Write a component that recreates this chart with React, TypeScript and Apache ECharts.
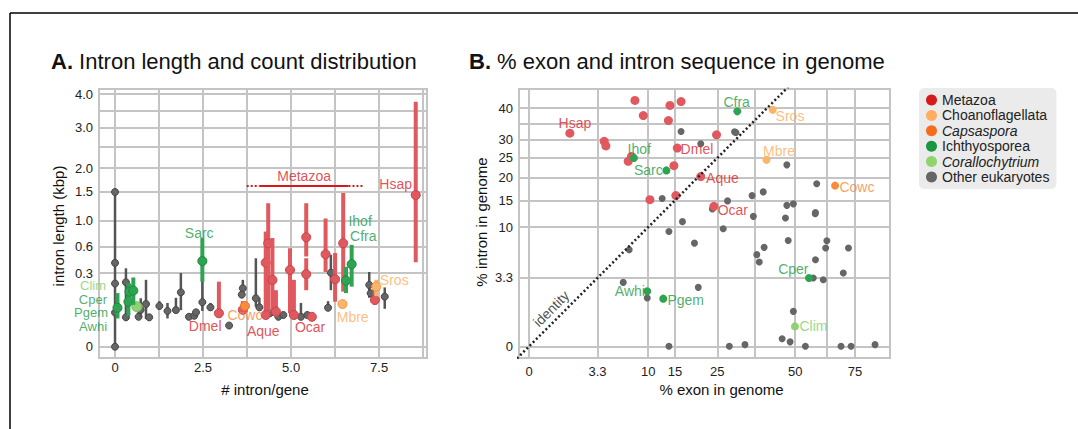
import React, { useEffect, useRef } from 'react';
import * as echarts from 'echarts';

const FONT = '"Liberation Sans", Arial, Helvetica, sans-serif';

// ---------- Panel A: [intron/gene, median kbp, low kbp, high kbp]
const aOther = [
  [0, 0.44, 0, 1.5], [0, 1.5, 1.5, 1.5], [0, 0.25, 0.25, 0.25], [0, 0.073, 0.073, 0.073], [0, 0, 0, 0],
  [0.31, 0.26, 0.054, 0.385], [0.31, 0.054, 0.054, 0.054], [0.67, 0.056, 0.045, 0.08], [0.73, 0.085, 0.056, 0.147],
  [0.88, 0.114, 0.048, 0.28], [0.97, 0.054, 0.054, 0.054], [1.26, 0.104, 0.085, 0.13], [1.49, 0.08, 0.05, 0.12],
  [1.73, 0.084, 0.07, 0.15], [1.87, 0.185, 0.084, 0.34], [2.1, 0.056, 0.056, 0.056], [2.25, 0.06, 0.06, 0.06],
  [2.3, 0.074, 0.074, 0.074], [2.48, 0.124, 0.08, 0.27], [2.71, 0.097, 0.08, 0.12], [3.24, 0.028, 0.028, 0.028],
  [3.63, 0.214, 0.17, 0.28], [3.6, 0.17, 0.17, 0.17], [4.0, 0.147, 0.1, 0.49], [4.1, 0.097, 0.08, 0.15],
  [4.4, 0.07, 0.07, 0.07], [4.64, 0.056, 0.056, 0.056], [4.78, 0.063, 0.063, 0.063], [5.28, 0.056, 0.05, 0.12],
  [5.46, 0.063, 0.063, 0.063], [6.05, 0.095, 0.095, 0.13], [6.13, 0.343, 0.2, 0.53], [7.22, 0.239, 0.15, 0.35],
  [7.26, 0.179, 0.179, 0.179], [7.66, 0.157, 0.09, 0.22],
];
const aMetazoa = [
  [2.95, 0.07, 0.07, 0.265], [3.63, 0.085, 0.075, 0.13], [4.28, 0.442, 0.056, 0.83], [4.35, 0.67, 0.07, 1.29],
  [4.47, 0.279, 0.077, 0.74], [4.57, 0.077, 0.056, 0.2], [4.28, 0.063, 0.063, 0.063], [4.97, 0.369, 0.07, 0.607],
  [5.08, 0.063, 0.063, 0.28], [5.43, 0.75, 0.51, 1.29], [5.43, 0.33, 0.2, 0.49], [5.59, 0.056, 0.056, 0.056],
  [5.98, 0.535, 0.35, 1.03], [6.25, 0.285, 0.127, 0.55], [6.48, 0.67, 0.19, 1.48], [7.38, 0.137, 0.11, 0.2],
  [8.54, 1.44, 0.447, 3.76],
];
const aIchthyo = [
  [0.07, 0.095, 0.05, 0.18], [0.38, 0.127, 0.06, 0.25], [0.41, 0.19, 0.13, 0.25], [0.52, 0.197, 0.11, 0.3],
  [2.48, 0.46, 0.265, 0.74], [6.56, 0.273, 0.18, 0.4], [6.72, 0.426, 0.226, 0.65],
];
const aCorallo = [[0.62, 0.1, 0.1, 0.1]];
const aCapsa = [[3.69, 0.104, 0.09, 0.13]];
const aChoano = [[6.46, 0.114, 0.1, 0.13], [7.42, 0.226, 0.16, 0.28]];

// labels: [text, x, kbp, align, group, fontSize]
const aLabels: [string, number, number, string, string, number][] = [
  ['Clim', -0.256, 0.231, 'right', 'Corallochytrium', 13],
  ['Cper', -0.227, 0.1397, 'right', 'Ichthyosporea', 13],
  ['Pgem', -0.2, 0.0712, 'right', 'Ichthyosporea', 13],
  ['Awhi', -0.227, 0.0256, 'right', 'Ichthyosporea', 13],
  ['Sarc', 2.39, 0.815, 'center', 'Ichthyosporea', 14],
  ['Dmel', 2.56, 0.0276, 'center', 'Metazoa', 14],
  ['Cowc', 3.69, 0.061, 'center', 'Capsaspora', 14],
  ['Aque', 4.21, 0.0155, 'center', 'Metazoa', 14],
  ['Ocar', 5.54, 0.0243, 'center', 'Metazoa', 14],
  ['Mbre', 6.75, 0.0564, 'center', 'Choanoflagellata', 14],
  ['Sros', 7.93, 0.279, 'center', 'Choanoflagellata', 14],
  ['Ihof', 6.96, 0.983, 'center', 'Ichthyosporea', 14],
  ['Cfra', 7.05, 0.761, 'center', 'Ichthyosporea', 14],
  ['Hsap', 7.97, 1.653, 'center', 'Metazoa', 14],
  ['Metazoa', 5.37, 1.833, 'center', 'Metazoa', 14],
];
const metazoaSpanX = [3.74, 4.1, 6.63, 7.04];
const metazoaSpanKbp = 1.62;

const aXTicks = [0, 1.25, 2.5, 3.75, 5, 6.25, 7.5, 8.75];
const aXTickLabels = ['0', '', '2.5', '', '5.0', '', '7.5', ''];
const aYTicks = [0, 0.34, 0.63, 1, 1.5, 2, 2.5, 3, 3.5, 4];
const aYTickLabels = ['0', '0.3', '0.6', '1.0', '1.5', '2.0', '', '3.0', '', '4.0'];

// ---------- Panel B: [% exon, % intron]
const bMetazoa = [
  [1.17, 32.0], [7.9, 42.6], [9.2, 37.5], [3.98, 29.6], [4.16, 28.3], [7.4, 25.4], [6.93, 24.1], [10.3, 15.15],
  [14.0, 40.9], [13.7, 35.9], [16.3, 42.2], [24.8, 31.5], [15.5, 27.7], [14.8, 23.0], [20.8, 20.3], [15.2, 16.0],
  [24.1, 13.8],
];
const bIchthyo = [[7.75, 25], [13.3, 21.8], [9.85, 2.13], [12.7, 1.6], [30.6, 38.9], [55.3, 3.29]];
const bCorallo = [[49.9, 0.28]];
const bCapsa = [[66.1, 18.2]];
const bChoano = [[41.9, 39.4], [39.8, 24.5]];
const bOther = [
  [12.5, 15.4], [7.07, 6.58], [6.25, 2.88], [9.85, 1.65], [13.8, 9.3], [13.8, 0], [16.3, 32.5], [30.2, 32.2],
  [29.8, 32.4], [20.8, 28.9], [46.9, 23.2], [58.4, 18.6], [35.1, 16.0], [38.7, 16.8], [27.8, 14.9], [23.7, 13.3],
  [46.9, 14.0], [49.3, 14.3], [57.8, 12.4], [57.9, 12.6], [35.5, 11.9], [46.4, 11.6], [16.6, 10.95], [26.6, 9.75],
  [19.3, 7.5], [47.4, 7.9], [62.6, 7.85], [62.1, 6.8], [72.0, 6.8], [39.0, 6.9], [36.6, 5.92], [37.4, 5.0],
  [57.9, 5.29], [69.7, 3.79], [57.0, 3.29], [61.1, 3.13], [20.2, 2.45], [49.3, 0.86], [45.2, 0.04], [48.1, 0.014],
  [28.3, 0], [32.9, 0.002], [53.9, 0], [68.7, 0], [73.2, 0], [84.5, 0.002],
];
const bLabels: [string, number, number, string, string][] = [
  ['Hsap', 1.48, 35.1, 'center', 'Metazoa'],
  ['Ihof', 8.56, 27.4, 'center', 'Ichthyosporea'],
  ['Sarc', 12.6, 21.8, 'right', 'Ichthyosporea'],
  ['Awhi', 9.47, 2.13, 'right', 'Ichthyosporea'],
  ['Pgem', 13.5, 1.53, 'left', 'Ichthyosporea'],
  ['Cfra', 30.4, 42.0, 'center', 'Ichthyosporea'],
  ['Sros', 42.9, 37.4, 'left', 'Choanoflagellata'],
  ['Dmel', 16.2, 27.4, 'left', 'Metazoa'],
  ['Mbre', 44.1, 26.95, 'center', 'Choanoflagellata'],
  ['Aque', 22.1, 19.95, 'left', 'Metazoa'],
  ['Cowc', 68.0, 17.9, 'left', 'Capsaspora'],
  ['Ocar', 25.1, 13.15, 'left', 'Metazoa'],
  ['Cper', 49.3, 4.21, 'center', 'Ichthyosporea'],
  ['Clim', 51.6, 0.28, 'left', 'Corallochytrium'],
];
const identityEnds = [-1, 100];
const identityLabelAt = [0.34, 1.0];

const bXTicks = [0, 3.3, 10, 15, 25, 36, 50, 62.5, 75];
const bXTickLabels = ['0', '3.3', '10', '15', '25', '', '50', '', '75'];
const bYTicks = [0, 3.3, 10, 15, 20, 25, 30, 35, 40];
const bYTickLabels = ['0', '3.3', '10', '15', '20', '25', '30', '', '40'];

const groupNames = ['Metazoa', 'Choanoflagellata', 'Capsaspora', 'Ichthyosporea', 'Corallochytrium', 'Other eukaryotes'];
const legendColors = ['#d7191c', '#fdae61', '#f46d1e', '#1a9641', '#8fd46c', '#666666'];
const italicGroups = ['Capsaspora', 'Corallochytrium'];

const labelColor: Record<string, string> = {
  Metazoa: '#d7262b', Choanoflagellata: '#fdae61', Capsaspora: '#f5883a', Ichthyosporea: '#229a46',
  Corallochytrium: '#7fce6a', 'Other eukaryotes': '#555555',
};
const markStyle: Record<string, { fill: string; stroke: string; line: string; lw: number; r: number; b: number }> = {
  Metazoa: { fill: '#e0595e', stroke: '#c9434a', line: '#e0595e', lw: 4, r: 4.5, b: 9 },
  Choanoflagellata: { fill: '#fdb466', stroke: '#f29a45', line: '#fdb466', lw: 4, r: 4.5, b: 8 },
  Capsaspora: { fill: '#f78c40', stroke: '#e8742a', line: '#f78c40', lw: 4, r: 4.5, b: 8 },
  Ichthyosporea: { fill: '#2ea352', stroke: '#1d8a3d', line: '#2ea352', lw: 4, r: 4.5, b: 8 },
  Corallochytrium: { fill: '#8fd175', stroke: '#76bf5c', line: '#8fd175', lw: 4, r: 5, b: 8 },
  'Other eukaryotes': { fill: '#666666', stroke: '#444444', line: '#555555', lw: 2.5, r: 3.5, b: 7 },
};

const aGroups: [string, number[][]][] = [
  ['Other eukaryotes', aOther], ['Metazoa', aMetazoa], ['Capsaspora', aCapsa], ['Choanoflagellata', aChoano],
  ['Corallochytrium', aCorallo], ['Ichthyosporea', aIchthyo],
];
const bGroups: [string, number[][]][] = [
  ['Other eukaryotes', bOther], ['Metazoa', bMetazoa], ['Capsaspora', bCapsa], ['Choanoflagellata', bChoano],
  ['Corallochytrium', bCorallo], ['Ichthyosporea', bIchthyo],
];

const sq = (v: number) => (v < 0 ? -Math.sqrt(-v) : Math.sqrt(v));

const fmtFrom = (ticks: number[], labels: string[], tf: (v: number) => number) => (v: number) => {
  for (let i = 0; i < ticks.length; i++) if (Math.abs(tf(ticks[i]) - v) < 1e-6) return labels[i];
  return '';
};
const labelled = (ticks: number[], labels: string[], tf: (v: number) => number) =>
  ticks.filter((_, i) => labels[i] !== '').map(tf);

const GRID = '#c4c4c4';
const TICK_FONT = { fontSize: 13, color: '#222', fontFamily: FONT };

function buildOption(): any {
  const ident = (v: number) => v;
  const axisCommon = (ticks: number[], labels: string[], tf: (v: number) => number, margin: number) => ({
    type: 'value',
    axisLine: { show: false },
    axisTick: { show: false, customValues: ticks.map(tf) },
    axisLabel: { ...TICK_FONT, margin, customValues: labelled(ticks, labels, tf), formatter: fmtFrom(ticks, labels, tf) },
    splitLine: { show: true, lineStyle: { color: GRID, width: 2 } },
  });

  const series: any[] = [];
  aGroups.forEach(([name, arr]) => {
    const st = markStyle[name];
    series.push({
      type: 'custom', name, xAxisIndex: 0, yAxisIndex: 0,
      data: arr.map((d) => [d[0], sq(d[1]), sq(d[2]), sq(d[3])]),
      encode: { x: 0, y: [1, 2, 3] },
      renderItem: (params: any, api: any) => {
        const p = api.coord([api.value(0), api.value(1)]);
        const lo = api.coord([api.value(0), api.value(2)]);
        const hi = api.coord([api.value(0), api.value(3)]);
        const children: any[] = [];
        if (Math.abs(lo[1] - hi[1]) > 0.5) {
          children.push({ type: 'line', shape: { x1: p[0], y1: lo[1], x2: p[0], y2: hi[1] }, style: { stroke: st.line, lineWidth: st.lw } });
        }
        children.push({ type: 'circle', shape: { cx: p[0], cy: p[1], r: st.r }, style: { fill: st.fill, stroke: st.stroke, lineWidth: 1 } });
        return { type: 'group', children };
      },
    });
  });
  const msy = sq(metazoaSpanKbp);
  series.push({
    type: 'line', name: 'metazoaSolid', xAxisIndex: 0, yAxisIndex: 0, symbol: 'none', silent: true,
    data: [[metazoaSpanX[1], msy], [metazoaSpanX[2], msy]], lineStyle: { color: '#d7191c', width: 2 },
  });
  series.push({
    type: 'line', name: 'metazoaDot1', xAxisIndex: 0, yAxisIndex: 0, symbol: 'none', silent: true,
    data: [[metazoaSpanX[0], msy], [metazoaSpanX[1], msy]], lineStyle: { color: '#d7191c', width: 2, type: [2, 2] },
  });
  series.push({
    type: 'line', name: 'metazoaDot2', xAxisIndex: 0, yAxisIndex: 0, symbol: 'none', silent: true,
    data: [[metazoaSpanX[2], msy], [metazoaSpanX[3], msy]], lineStyle: { color: '#d7191c', width: 2, type: [2, 2] },
  });
  series.push({
    type: 'scatter', name: 'aLabels', xAxisIndex: 0, yAxisIndex: 0, symbolSize: 0, silent: true,
    data: aLabels.map(([t, x, y, al, g, fs]) => ({
      value: [x, sq(y)],
      label: { show: true, formatter: t, position: [0, 0], align: al, verticalAlign: 'middle', color: labelColor[g], fontSize: fs, fontFamily: FONT },
    })),
  });

  // Panel B
  series.push({
    type: 'line', name: 'identity', xAxisIndex: 1, yAxisIndex: 1, symbol: 'none', silent: true, clip: true,
    data: identityEnds.map((v) => [sq(v), sq(v)]), lineStyle: { color: '#222', width: 2.5, type: [2, 2.5] },
  });
  bGroups.forEach(([name, arr]) => {
    const st = markStyle[name];
    series.push({
      type: 'scatter', name, xAxisIndex: 1, yAxisIndex: 1, symbolSize: st.b,
      data: arr.map((d) => [sq(d[0]), sq(d[1])]),
      itemStyle: { color: st.fill, opacity: 1 },
    });
  });
  series.push({
    type: 'scatter', name: 'bLabels', xAxisIndex: 1, yAxisIndex: 1, symbolSize: 0, silent: true,
    data: [
      ...bLabels.map(([t, x, y, al, g]) => ({
        value: [sq(x), sq(y)],
        label: { show: true, formatter: t, position: [0, 0], align: al, verticalAlign: 'middle', color: labelColor[g], fontSize: 14, fontFamily: FONT },
      })),
      {
        value: identityLabelAt.map(sq),
        label: { show: true, formatter: 'identity', position: [0, 0], align: 'center', verticalAlign: 'middle', rotate: 45, color: '#222', fontSize: 14, fontFamily: FONT },
      },
    ],
  });

  const titleStyle = {
    fontSize: 22, fontWeight: 'normal', color: '#111', fontFamily: FONT,
    rich: { b: { fontSize: 22, fontWeight: 'bold', color: '#111', fontFamily: FONT } },
  };

  return {
    animation: false,
    backgroundColor: '#ffffff',
    textStyle: { fontFamily: FONT },
    title: [
      { text: '{b|A.} Intron length and count distribution', left: 46, top: 45, textStyle: titleStyle },
      { text: '{b|B.} % exon and intron sequence in genome', left: 464, top: 45, textStyle: titleStyle },
    ],
    grid: [
      { left: 99, top: 89, width: 328, height: 269, show: true, borderColor: GRID, borderWidth: 2, backgroundColor: 'transparent' },
      { left: 519, top: 89, width: 371, height: 269, show: true, borderColor: GRID, borderWidth: 2, backgroundColor: 'transparent' },
    ],
    xAxis: [
      { ...axisCommon(aXTicks, aXTickLabels, ident, 3), gridIndex: 0, min: -0.455, max: 8.86 },
      { ...axisCommon(bXTicks, bXTickLabels, sq, 7), gridIndex: 1, min: -0.27, max: 9.59 },
    ],
    yAxis: [
      { ...axisCommon(aYTicks, aYTickLabels, sq, 6), gridIndex: 0, min: -0.0895, max: 2.04 },
      { ...axisCommon(bYTicks, bYTickLabels, sq, 6), gridIndex: 1, min: -0.31, max: 6.83 },
    ],
    legend: {
      orient: 'vertical', left: 919, top: 88, icon: 'circle', itemWidth: 11, itemHeight: 11, itemGap: 1.4, itemTextGap: 5,
      backgroundColor: '#ebebeb', borderRadius: 5, padding: [5, 7, 5, 7], selectedMode: false,
      data: groupNames.map((n, i) => ({ name: n, itemStyle: { color: legendColors[i] } })),
      formatter: (n: string) => (italicGroups.includes(n) ? `{i|${n}}` : n),
      textStyle: { fontSize: 14, color: '#222', fontFamily: FONT, rich: { i: { fontSize: 14, fontStyle: 'italic', color: '#222', fontFamily: FONT } } },
    },
    graphic: [
      { type: 'line', shape: { x1: 10, y1: 13, x2: 1078, y2: 13 }, style: { stroke: '#000', lineWidth: 1.5 } },
      { type: 'line', shape: { x1: 10, y1: 13, x2: 10, y2: 429 }, style: { stroke: '#000', lineWidth: 1.5 } },
      { type: 'text', x: 265, y: 389, style: { text: '# intron/gene', fontSize: 15, fill: '#111', fontFamily: FONT, align: 'center', verticalAlign: 'middle' } },
      { type: 'text', x: 721.5, y: 389, style: { text: '% exon in genome', fontSize: 15, fill: '#111', fontFamily: FONT, align: 'center', verticalAlign: 'middle' } },
      { type: 'text', x: 58.5, y: 226, rotation: Math.PI / 2, style: { text: 'intron length (kbp)', fontSize: 15, fill: '#111', fontFamily: FONT, align: 'center', verticalAlign: 'middle' } },
      { type: 'text', x: 481, y: 222, rotation: Math.PI / 2, style: { text: '% intron in genome', fontSize: 15, fill: '#111', fontFamily: FONT, align: 'center', verticalAlign: 'middle' } },
    ],
    series,
  };
}

export default function App() {
  const ref = useRef<HTMLDivElement>(null);
  useEffect(() => {
    if (!ref.current) return;
    const chart = echarts.init(ref.current, undefined, { renderer: 'svg' });
    chart.setOption(buildOption());
    return () => chart.dispose();
  }, []);
  return <div ref={ref} style={{ position: 'absolute', left: 0, top: 0, width: 1078, height: 429 }} />;
}
